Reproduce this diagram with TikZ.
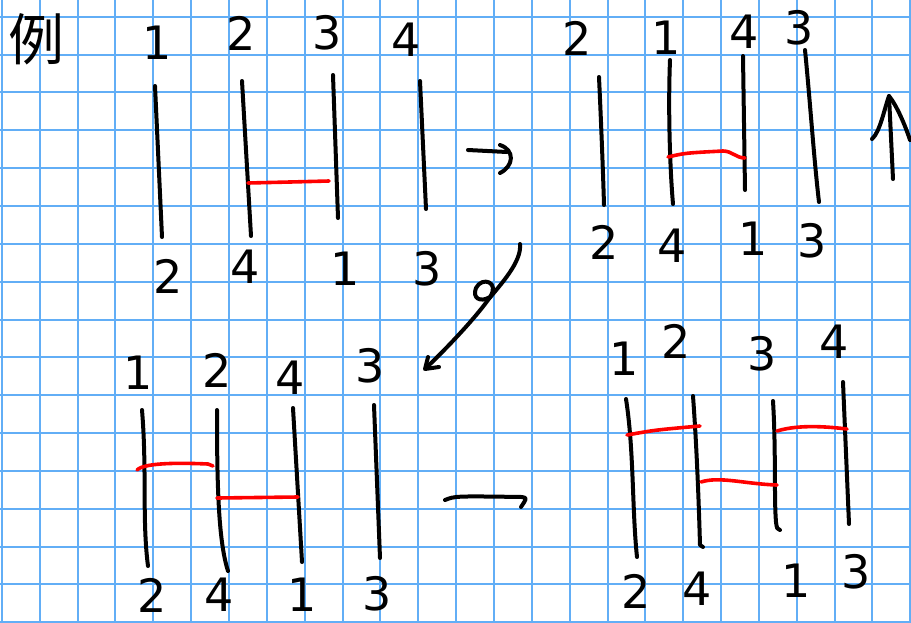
\documentclass[tikz,border=0pt]{standalone}
\usepackage{fontspec}
\setmainfont{DejaVu Sans}
\newfontfamily\cjkfont{Noto Sans CJK SC}
\usetikzlibrary{arrows.meta}
\definecolor{gridblue}{RGB}{98,174,246}

\begin{document}
\begin{tikzpicture}[
    x=0.5pt, y=-0.5pt,
    gridline/.style={draw=gridblue, line width=1pt},
    pen/.style={draw=black, line width=2pt, line cap=round, line join=round},
    rung/.style={pen, draw=red, line width=1.8pt},
    num/.style={font=\fontsize{23}{23}\selectfont, inner sep=0pt},
]
    \useasboundingbox (0,0) rectangle (911,622);
    \fill[white] (0,0) rectangle (911,622);
    \clip (0,0) rectangle (911,622);

    % Grid
    \foreach \i in {0,...,24}
        \draw[gridline] ({1.9+37.85*\i},0) -- ({1.9+37.85*\i},622);
    \foreach \j in {0,...,16}
        \draw[gridline] (0,{16.7+37.85*\j}) -- (911,{16.7+37.85*\j});

    % Title
    \node[font=\cjkfont\fontsize{28}{28}\selectfont, inner sep=0pt] (title) at (37,39) {例};

    % Panel 1
    \node[num] (p1t1) at (157,43) {1};
    \node[num] (p1t2) at (241,33) {2};
    \node[num] (p1t3) at (327,33) {3};
    \node[num] (p1t4) at (406,40) {4};
    \draw[pen] (155,86) -- (162,237);
    \draw[pen] (242,81) -- (251,236);
    \draw[pen] (333,75) -- (338,218);
    \draw[pen] (420,81) -- (426,209);
    \draw[rung] (248,183) -- (290,182) -- (329,181);
    \node[num] (p1b1) at (168,276) {2};
    \node[num] (p1b2) at (245,267) {4};
    \node[num] (p1b3) at (345,269) {1};
    \node[num] (p1b4) at (427,269) {3};

    % Arrow to panel 2
    \draw[pen] (468,150) -- (507,152);
    \draw[pen] (500,145) .. controls (515,150) and (514,166) .. (500,173);

    % Panel 2
    \node[num] (p2t1) at (577,38) {2};
    \node[num] (p2t2) at (666,38) {1};
    \node[num] (p2t3) at (744,32) {4};
    \node[num] (p2t4) at (799,28) {3};
    \draw[pen] (599,77) .. controls (601,120) and (603,170) .. (604,205);
    \draw[pen] (670,60) .. controls (668,110) and (670,170) .. (673,204);
    \draw[pen] (743,56) -- (745,190);
    \draw[pen] (805,50) .. controls (810,100) and (814,160) .. (819,202);
    \draw[rung] (668,157) .. controls (685,153) .. (723,151) .. controls (732,151) and (736,158) .. (745,158);
    \node[num] (p2b1) at (604,242) {2};
    \node[num] (p2b2) at (672,246) {4};
    \node[num] (p2b3) at (753,239) {1};
    \node[num] (p2b4) at (812,241) {3};

    % Up arrow
    \draw[pen] (893,179) -- (889,96);
    \draw[pen] (872,139) .. controls (880,132) and (884,110) .. (889,96)
        .. controls (897,106) and (905,125) .. (910,140);

    % Arrow to panel 3
    \draw[pen] (520,244) .. controls (522,262) and (500,285) .. (488,300)
        .. controls (475,318) and (450,345) .. (426,368);
    \draw[pen] (490,297) .. controls (500,282) and (482,276) .. (476,288)
        .. controls (472,298) and (480,303) .. (490,297);
    \draw[pen] (428,357) -- (425,369) -- (439,367);

    % Panel 3
    \node[num] (p3t1) at (138,373) {1};
    \node[num] (p3t2) at (217,370) {2};
    \node[num] (p3t3) at (290,378) {4};
    \node[num] (p3t4) at (370,366) {3};
    \draw[pen] (142,410) .. controls (147,470) and (142,520) .. (148,566);
    \draw[pen] (217,410) .. controls (217,480) and (218,540) .. (228,571);
    \draw[pen] (293,408) -- (302,562);
    \draw[pen] (374,405) -- (380,558);
    \draw[rung] (137,470) .. controls (145,462) and (185,463) .. (208,464) -- (213,466);
    \draw[rung] (217,498) -- (298,497);
    \node[num] (p3b1) at (152,595) {2};
    \node[num] (p3b2) at (219,595) {4};
    \node[num] (p3b3) at (302,595) {1};
    \node[num] (p3b4) at (377,594) {3};

    % Arrow to panel 4
    \draw[pen] (445,500) .. controls (455,496) .. (522,497) .. controls (527,498) .. (521,507);

    % Panel 4
    \node[num] (p4t1) at (624,359) {1};
    \node[num] (p4t2) at (676,341) {2};
    \node[num] (p4t3) at (762,354) {3};
    \node[num] (p4t4) at (834,342) {4};
    \draw[pen] (626,399) .. controls (634,450) and (632,510) .. (637,557);
    \draw[pen] (693,396) .. controls (697,450) and (699,510) .. (700,545) -- (703,547);
    \draw[pen] (773,401) .. controls (776,450) and (774,500) .. (776,522) .. controls (777,529) .. (780,530);
    \draw[pen] (843,382) -- (849,524);
    \draw[rung] (627,435) .. controls (655,430) .. (700,426);
    \draw[rung] (701,482) .. controls (720,476) and (745,484) .. (777,485);
    \draw[rung] (777,431) .. controls (800,424) and (830,427) .. (847,429);
    \node[num] (p4b1) at (636,591) {2};
    \node[num] (p4b2) at (697,589) {4};
    \node[num] (p4b3) at (796,581) {1};
    \node[num] (p4b4) at (856,572) {3};
\end{tikzpicture}
\end{document}
